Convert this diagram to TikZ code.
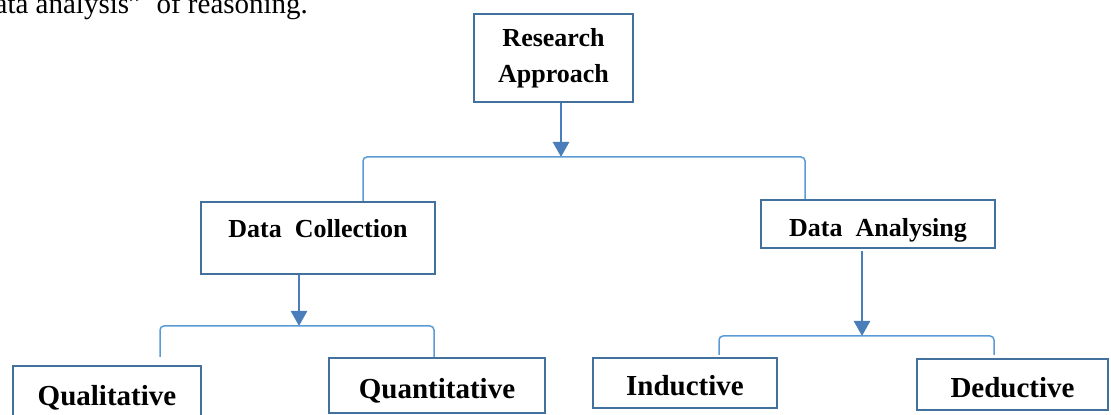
\documentclass[tikz,border=0pt]{standalone}
\usepackage{fontspec}
\setmainfont{Liberation Serif}
\usetikzlibrary{calc}
\usetikzlibrary{arrows.meta}
\usetikzlibrary{positioning}

\definecolor{boxblue}{RGB}{65,113,156}
\definecolor{forkblue}{RGB}{91,155,213}
\definecolor{arrowblue}{RGB}{74,126,187}

\begin{document}
\begin{tikzpicture}[x=0.5pt,y=-0.5pt,
        stepbox/.style={draw=boxblue,line width=1pt,inner sep=0pt,align=center,
            font=\bfseries\fontsize{13}{18}\selectfont},
        leafbox/.style={stepbox,text height=13pt,text depth=0pt,
            font=\bfseries\fontsize{14.5}{17}\selectfont},
        fork/.style={draw=forkblue,line width=0.75pt,rounded corners=2pt},
        pointer/.style={draw=arrowblue,line width=1.25pt,-{Triangle[length=7.5pt,width=8pt]}}
        ]%
    \useasboundingbox (0,0) rectangle (1111,415);
    \node[anchor=base east,font=\fontsize{14.5}{17}\selectfont] (intro) at (315,14) {data analysis”\ \ of reasoning.};

    \node[stepbox,minimum width=79.5pt,minimum height=44pt] (ra) at (553.5,58) {Research\\Approach};
    \node[stepbox,minimum width=117pt,minimum height=36pt,text depth=10pt] (dc) at (318,238) {Data~~Collection};
    \node[stepbox,minimum width=117pt,minimum height=24pt,text height=15pt] (da) at (878,224) {Data~~Analysing};

    \node[leafbox,minimum width=94pt,minimum height=27pt] (qual) at (107,393) {Qualitative};
    \node[leafbox,minimum width=108pt,minimum height=27.5pt] (quant) at (437,385.5) {Quantitative};
    \node[leafbox,minimum width=92pt,minimum height=25pt] (induct) at (685,383) {Inductive};
    \node[leafbox,minimum width=95.5pt,minimum height=25.5pt] (deduct) at (1012.5,384.5) {Deductive};

    \coordinate (ra-fork) at (561,157);
    \coordinate (dc-fork) at (299,326);
    \coordinate (da-fork) at (862,336);

    \draw[pointer] (ra.south -| ra-fork) -- (ra-fork);
    \draw[fork] ([xshift=22.5pt]dc.north) |- (ra-fork) -| ([xshift=-36.5pt]da.north);

    \draw[pointer] (dc.south -| dc-fork) -- (dc-fork);
    \draw[fork] ([xshift=26.5pt,yshift=4pt]qual.north) |- (dc-fork) -| ([xshift=-1.5pt]quant.north);

    \draw[pointer] ([yshift=-1pt]da.south -| da-fork) -- (da-fork);
    \draw[fork] ([xshift=17pt,yshift=1pt]induct.north) |- (da-fork) -| ([xshift=-9.25pt,yshift=1.5pt]deduct.north);
\end{tikzpicture}
\end{document}
